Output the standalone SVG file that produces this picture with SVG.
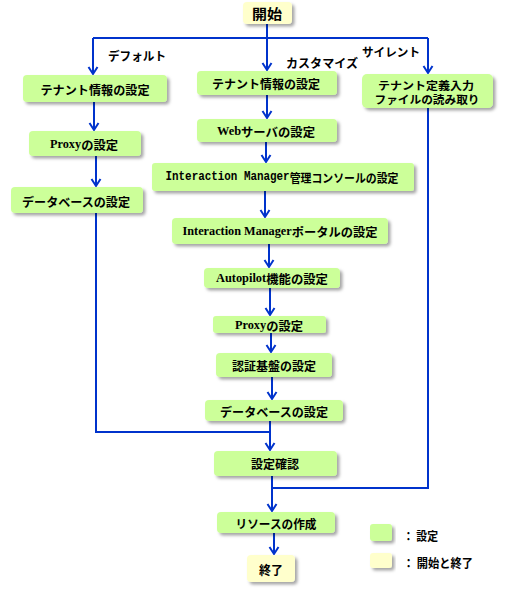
<svg xmlns="http://www.w3.org/2000/svg" width="507" height="589" viewBox="0 0 507 589">
<defs>
<filter id="sh" x="-10%" y="-20%" width="125%" height="160%">
<feDropShadow dx="2.5" dy="2.5" stdDeviation="1.5" flood-color="#000" flood-opacity="0.35"/>
</filter>
<marker id="ah" markerUnits="userSpaceOnUse" markerWidth="14" markerHeight="14" refX="0" refY="0" viewBox="-9 -7 11 14" orient="auto" overflow="visible">
<path d="M-7,-4.5 L0,0 L-7,4.5" fill="none" stroke="#0033cc" stroke-width="2"/>
</marker>
</defs>
<style>
.g{fill:#ccff99;filter:url(#sh)}
.y{fill:#ffffcc;filter:url(#sh)}
.t{font-family:"Noto Sans CJK JP","Liberation Sans",sans-serif;font-weight:bold;font-size:12px;fill:#000;text-anchor:middle;dominant-baseline:central}
.s{font-family:"Liberation Serif","Noto Sans CJK JP",serif}
.m{font-family:"Liberation Mono","Noto Sans CJK JP",monospace}
.c{fill:none;stroke:#0033cc;stroke-width:2}
.a{fill:none;stroke:#0033cc;stroke-width:2;marker-end:url(#ah)}
.l{font-family:"Noto Sans CJK JP","Liberation Sans",sans-serif;font-weight:bold;font-size:12px;fill:#000;dominant-baseline:central}
</style>
<g id="connectors">
<path class="a" d="M267,23 V70"/>
<path class="c" d="M93,38 H428"/>
<path class="a" d="M93,38 V74"/>
<path class="a" d="M428,38 V73"/>
<path class="a" d="M94,102 V130"/>
<path class="a" d="M96,156 V186"/>
<path class="c" d="M96,213 V432 H270"/>
<path class="a" d="M267,95 V118"/>
<path class="a" d="M266,142 V162"/>
<path class="a" d="M265,191 V217"/>
<path class="a" d="M269,244 V267"/>
<path class="a" d="M270,288 V315"/>
<path class="a" d="M271,333 V352"/>
<path class="a" d="M272,377 V399"/>
<path class="a" d="M270,421 V450"/>
<path class="a" d="M272,476 V511"/>
<path class="c" d="M428,108 V488 H272"/>
<path class="a" d="M274,533 V554"/>
</g>
<g id="label-default"><text class="l" x="108" y="55" textLength="58" lengthAdjust="spacingAndGlyphs">デフォルト</text></g>
<g id="label-custom"><text class="l" x="286" y="62" textLength="72" lengthAdjust="spacingAndGlyphs">カスタマイズ</text></g>
<g id="label-silent"><text class="l" x="362" y="51" textLength="58" lengthAdjust="spacingAndGlyphs">サイレント</text></g>
<g id="start"><rect class="y" x="243" y="2" width="49" height="22" rx="4"/><text class="t" x="267" y="13" style="font-size:14px" textLength="30" lengthAdjust="spacingAndGlyphs">開始</text></g>
<g id="d-tenant"><rect class="g" x="23" y="75" width="144" height="27" rx="4"/><text class="t" x="95" y="89" textLength="109" lengthAdjust="spacingAndGlyphs">テナント情報の設定</text></g>
<g id="d-proxy"><rect class="g" x="29" y="131" width="112" height="25" rx="4"/><text class="t" x="84" y="144" textLength="68" lengthAdjust="spacingAndGlyphs"><tspan class="s">Proxy</tspan>の設定</text></g>
<g id="d-db"><rect class="g" x="11" y="187" width="132" height="26" rx="4"/><text class="t" x="76" y="201" textLength="108" lengthAdjust="spacingAndGlyphs">データベースの設定</text></g>
<g id="c-tenant"><rect class="g" x="197" y="71" width="140" height="24" rx="4"/><text class="t" x="266" y="83" textLength="108" lengthAdjust="spacingAndGlyphs">テナント情報の設定</text></g>
<g id="c-web"><rect class="g" x="197" y="119" width="140" height="23" rx="4"/><text class="t" x="266" y="131" textLength="98" lengthAdjust="spacingAndGlyphs"><tspan class="s">Web</tspan>サーバの設定</text></g>
<g id="c-console"><rect class="g" x="152" y="163" width="262" height="28" rx="3"/><text class="t" x="282" y="177" textLength="233" lengthAdjust="spacingAndGlyphs"><tspan class="m">Interaction Manager</tspan>管理コンソールの設定</text></g>
<g id="c-portal"><rect class="g" x="172" y="218" width="216" height="26" rx="4"/><text class="t" x="280" y="231" textLength="195" lengthAdjust="spacingAndGlyphs"><tspan class="s">Interaction Manager</tspan>ポータルの設定</text></g>
<g id="c-autopilot"><rect class="g" x="204" y="268" width="136" height="20" rx="4"/><text class="t" x="272" y="278" textLength="112" lengthAdjust="spacingAndGlyphs"><tspan class="s">Autopilot</tspan>機能の設定</text></g>
<g id="c-proxy"><rect class="g" x="213" y="316" width="113" height="17" rx="3"/><text class="t" x="269" y="325" textLength="68" lengthAdjust="spacingAndGlyphs"><tspan class="s">Proxy</tspan>の設定</text></g>
<g id="c-auth"><rect class="g" x="216" y="353" width="116" height="24" rx="4"/><text class="t" x="274" y="365" textLength="84" lengthAdjust="spacingAndGlyphs">認証基盤の設定</text></g>
<g id="c-db"><rect class="g" x="205" y="400" width="138" height="21" rx="4"/><text class="t" x="274" y="411" textLength="108" lengthAdjust="spacingAndGlyphs">データベースの設定</text></g>
<g id="confirm"><rect class="g" x="214" y="451" width="123" height="25" rx="4"/><text class="t" x="275" y="463" textLength="48" lengthAdjust="spacingAndGlyphs">設定確認</text></g>
<g id="silent"><rect class="g" x="362" y="74" width="131" height="34" rx="5"/><text class="t" x="426" y="84.5" style="font-size:11px" textLength="96" lengthAdjust="spacingAndGlyphs">テナント定義入力</text><text class="t" x="427" y="99" style="font-size:11px" textLength="105" lengthAdjust="spacingAndGlyphs">ファイルの読み取り</text></g>
<g id="resource"><rect class="g" x="217" y="512" width="118" height="21" rx="4"/><text class="t" x="276" y="523" textLength="81" lengthAdjust="spacingAndGlyphs">リソースの作成</text></g>
<g id="end"><rect class="y" x="247" y="555" width="48" height="27" rx="4"/><text class="t" x="271" y="569" textLength="24" lengthAdjust="spacingAndGlyphs">終了</text></g>
<g id="legend">
<rect class="g" x="370" y="524" width="22" height="17" rx="3"/>
<text class="l" x="403" y="535" textLength="35" lengthAdjust="spacingAndGlyphs">： 設定</text>
<rect class="y" x="370" y="553" width="22" height="15" rx="3"/>
<text class="l" x="403" y="562" textLength="70" lengthAdjust="spacingAndGlyphs">： 開始と終了</text>
</g>
</svg>
